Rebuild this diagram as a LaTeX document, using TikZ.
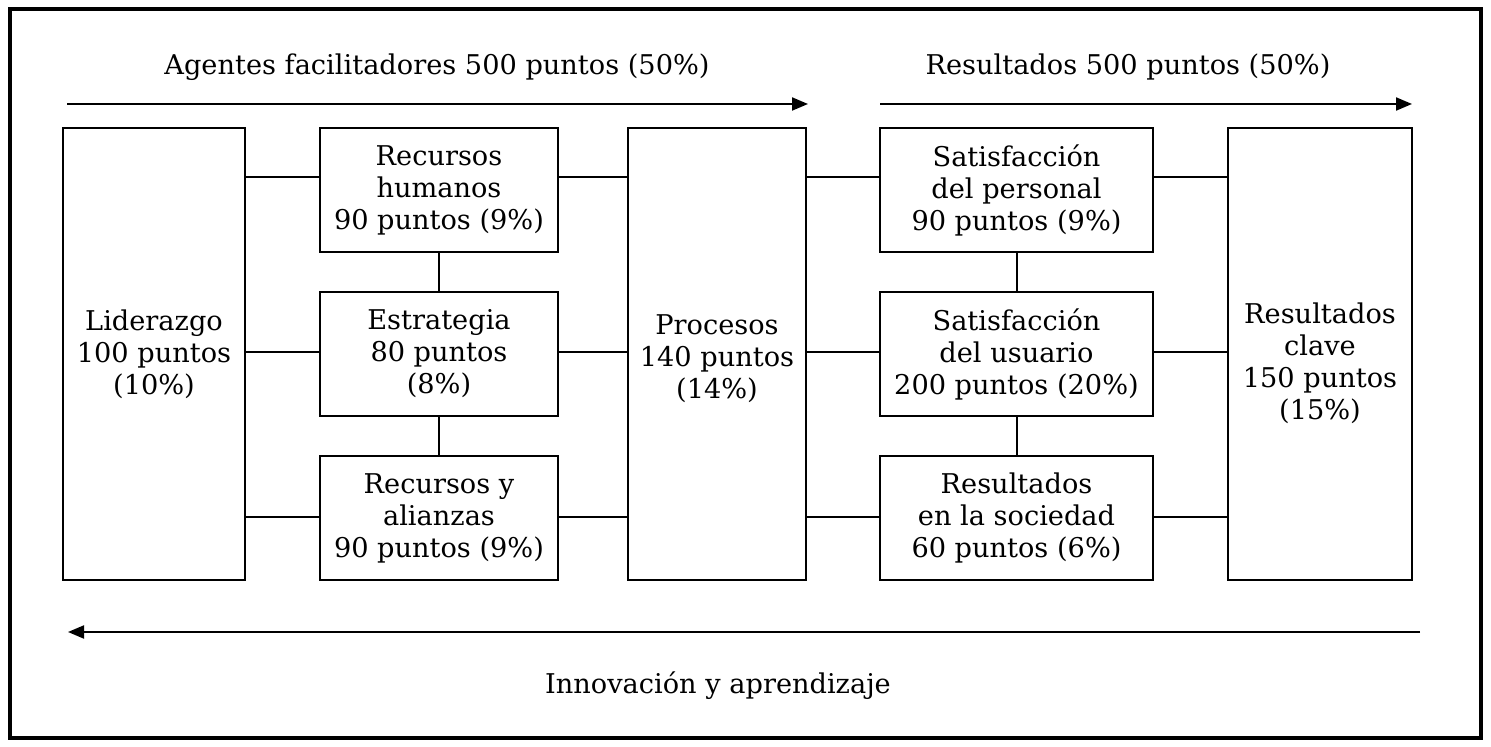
\documentclass[tikz,border=0pt]{standalone}
\usepackage{fontspec}
\setmainfont{DejaVu Serif}
\usetikzlibrary{arrows.meta}

\begin{document}
\begin{tikzpicture}[x=0.5pt,y=-0.5pt,
        font=\fontsize{13.6}{16}\selectfont,
        box/.style={draw,line width=1pt,align=center,inner sep=0pt},
        link/.style={line width=1pt},
        flow/.style={line width=1pt,-{Triangle[length=8pt,width=6.5pt]}}
    ]
    \useasboundingbox (0,0) rectangle (1491,747);
    \draw[line width=2pt] (10,9) rectangle (1481,738);
    % agentes facilitadores
    \node[box,minimum width=91pt,minimum height=226pt] (lid) at (154,354) {Liderazgo\\100 puntos\\(10\%)};
    \node[box,minimum width=119pt,minimum height=62pt] (rh) at (439,190) {Recursos\\humanos\\90 puntos (9\%)};
    \node[box,minimum width=119pt,minimum height=62pt] (est) at (439,354) {Estrategia\\80 puntos\\(8\%)};
    \node[box,minimum width=119pt,minimum height=62pt] (ra) at (439,518) {Recursos y\\alianzas\\90 puntos (9\%)};
    \node[box,minimum width=89pt,minimum height=226pt,
        label={[align=center,yshift=-2.5pt]center:Procesos\\140 puntos\\(14\%)}] (proc) at (717,354) {};
    % resultados
    \node[box,minimum width=136.5pt,minimum height=62pt] (sp) at (1016.5,190) {Satisfacción\\del personal\\90 puntos (9\%)};
    \node[box,minimum width=136.5pt,minimum height=62pt] (su) at (1016.5,354) {Satisfacción\\del usuario\\200 puntos (20\%)};
    \node[box,minimum width=136.5pt,minimum height=62pt] (rs) at (1016.5,518) {Resultados\\en la sociedad\\60 puntos (6\%)};
    \node[box,minimum width=92pt,minimum height=226pt,
        label={[align=center,yshift=-4.5pt]center:Resultados\\clave\\150 puntos\\(15\%)}] (rc) at (1320,354) {};
    % titulos
    \node (agt) at (437,67) {Agentes facilitadores 500 puntos (50\%)};
    \node (res) at (1128,67) {Resultados 500 puntos (50\%)};
    \node (ina) at (718,686) {Innovación y aprendizaje};
    % flechas
    \coordinate (a1) at (67,104);
    \coordinate (a2) at (808,104);
    \coordinate (b1) at (880,104);
    \coordinate (b2) at (1412,104);
    \coordinate (c1) at (1420,632);
    \coordinate (c2) at (68,632);
    \draw[flow] (a1) -- (a2);
    \draw[flow] (b1) -- (b2);
    \draw[flow] (c1) -- (c2);
    % conexiones
    \coordinate (r1) at (0,177);
    \coordinate (r2) at (0,352);
    \coordinate (r3) at (0,517);
    \foreach \r/\a/\b in {r1/rh/sp,r2/est/su,r3/ra/rs}{
        \draw[link] (lid.east |- \r) -- (\a.west |- \r);
        \draw[link] (\a.east |- \r) -- (proc.west |- \r);
        \draw[link] (proc.east |- \r) -- (\b.west |- \r);
        \draw[link] (\b.east |- \r) -- (rc.west |- \r);
    }
    \draw[link] (rh.south) -- (est.north);
    \draw[link] (est.south) -- (ra.north);
    \draw[link] (sp.south) -- (su.north);
    \draw[link] (su.south) -- (rs.north);
\end{tikzpicture}
\end{document}
